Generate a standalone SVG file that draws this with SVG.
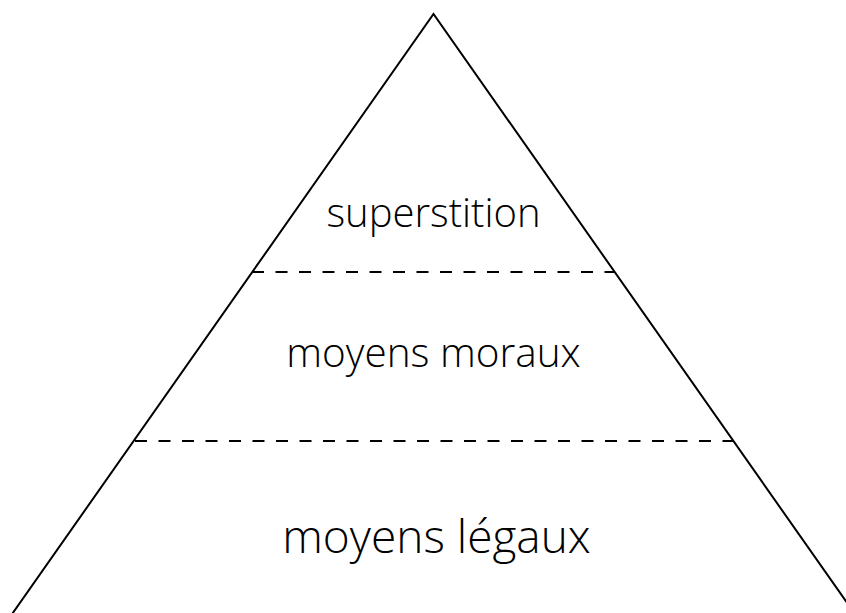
<svg xmlns="http://www.w3.org/2000/svg" width="846" height="613" viewBox="0 0 846 613">
<style>
.edge{fill:none;stroke:#000;stroke-width:2}
.dash{fill:none;stroke:#000;stroke-width:2;stroke-dasharray:12 11.5}
text{font-family:"Open Sans","Noto Sans",sans-serif;fill:#000;text-anchor:middle;font-weight:300}
</style>
<rect width="846" height="613" fill="#fff"/>
<g id="connectors">
<path class="edge" d="M10,617 L433.5,14 L857,617"/>
<line class="dash" x1="252" y1="272" x2="614" y2="272"/>
<line class="dash" x1="135" y1="441" x2="733" y2="441"/>
</g>
<g id="superstition"><text x="433.5" y="227" font-size="40">superstition</text></g>
<g id="moyens-moraux"><text x="433.5" y="367" font-size="40.5">moyens moraux</text></g>
<g id="moyens-legaux"><text x="436.5" y="553" font-size="46">moyens légaux</text></g>
</svg>
